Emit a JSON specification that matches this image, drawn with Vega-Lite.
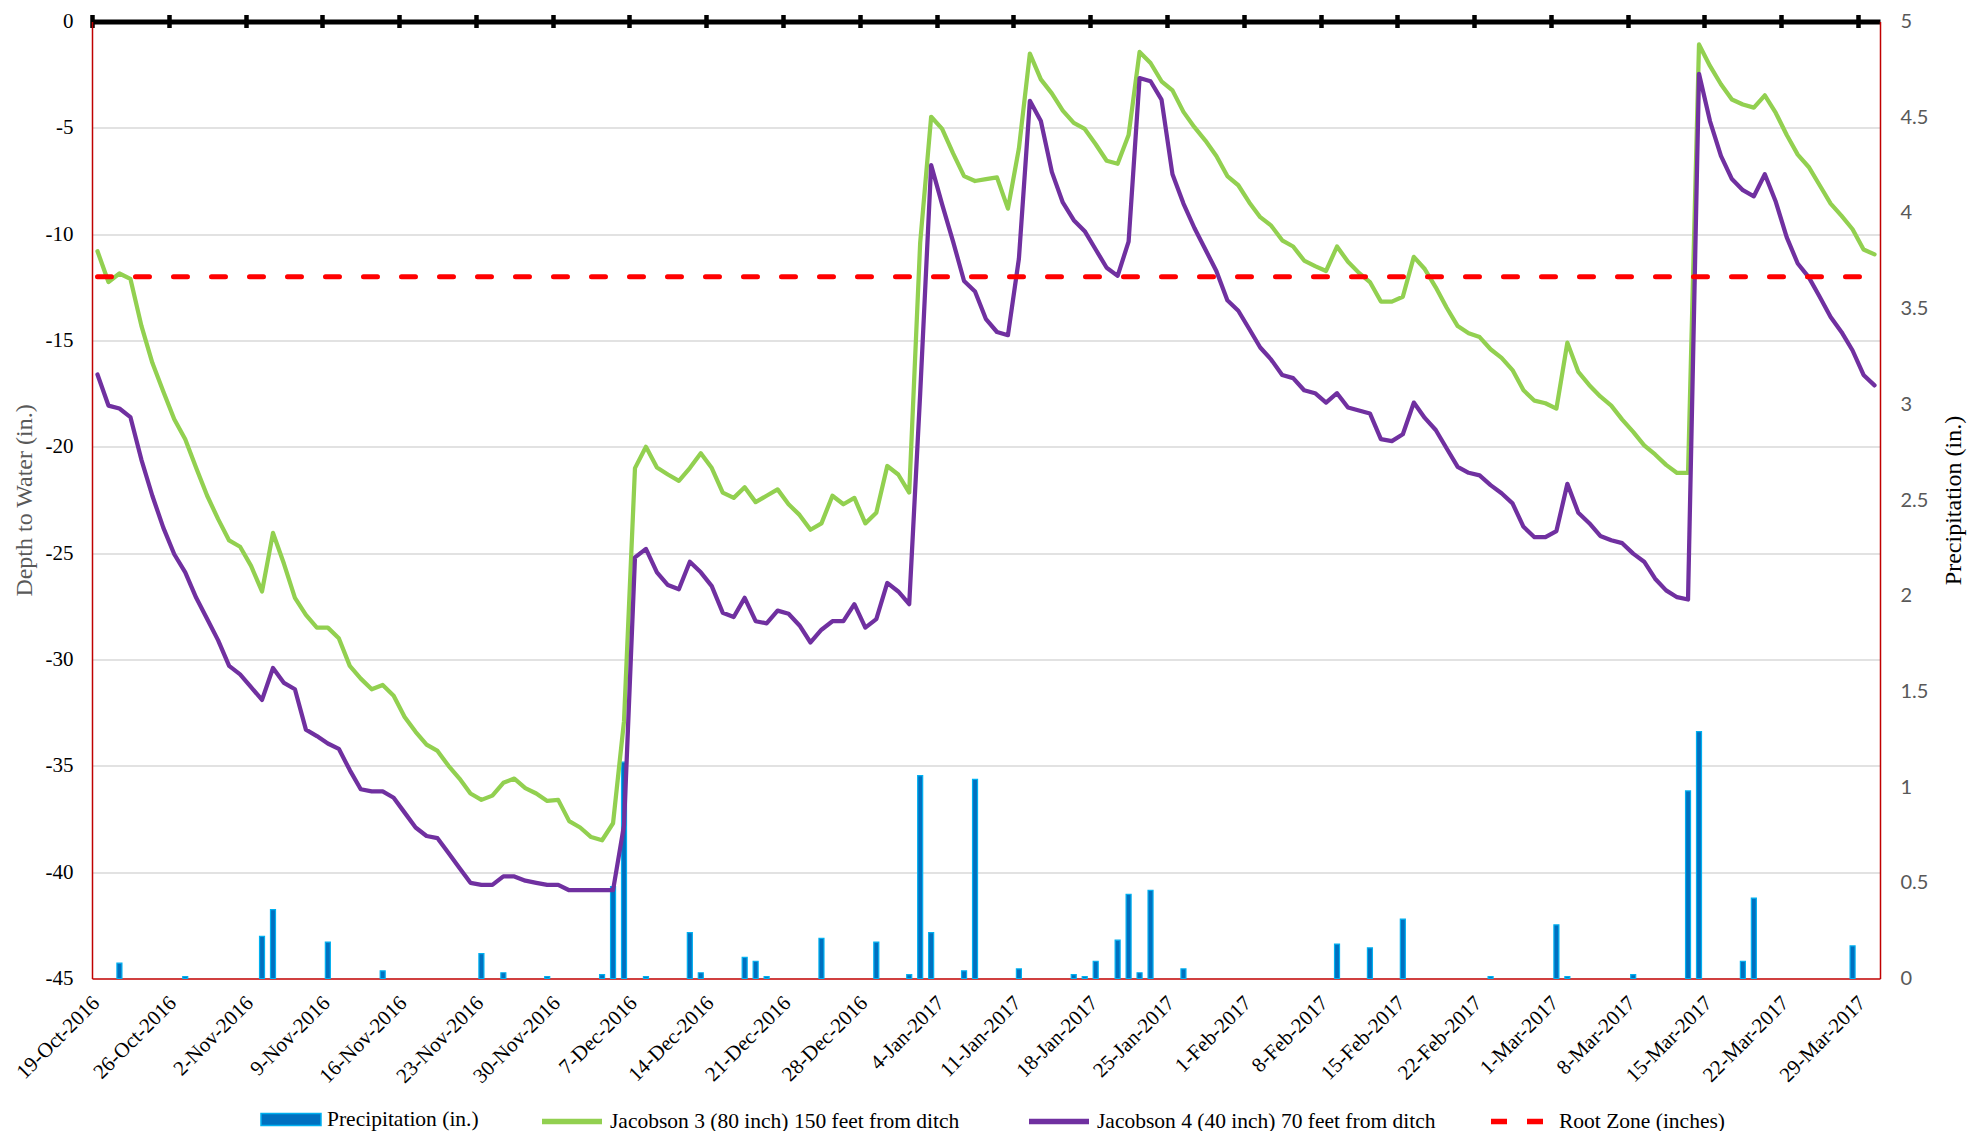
{
  "$schema": "https://vega.github.io/schema/vega-lite/v6.json",
  "width": 1788,
  "height": 957,
  "autosize": {"type": "none"},
  "padding": {"left": 92, "top": 21.5, "right": 87, "bottom": 152.5},
  "background": "#ffffff",
  "config": {"view": {"stroke": null}, "font": "Liberation Serif",
    "legend": {"orient": "none", "title": null, "labelFont": "Liberation Serif", "labelFontSize": 21.5, "labelColor": "#000000", "labelLimit": 1000, "symbolSize": 3600, "labelOffset": 5, "padding": 0}},
  "data": {"values": [
    {"Date":"2016-10-19","J3":-10.8,"J4":-16.6,"RZ":-12},
    {"Date":"2016-10-20","J3":-12.25,"J4":-18.06,"RZ":-12},
    {"Date":"2016-10-21","J3":-11.85,"J4":-18.2,"RZ":-12,"P":0.08},
    {"Date":"2016-10-22","J3":-12.1,"J4":-18.6,"RZ":-12},
    {"Date":"2016-10-23","J3":-14.3,"J4":-20.6,"RZ":-12},
    {"Date":"2016-10-24","J3":-16.05,"J4":-22.3,"RZ":-12},
    {"Date":"2016-10-25","J3":-17.4,"J4":-23.8,"RZ":-12},
    {"Date":"2016-10-26","J3":-18.7,"J4":-25.05,"RZ":-12},
    {"Date":"2016-10-27","J3":-19.64,"J4":-25.9,"RZ":-12,"P":0.01},
    {"Date":"2016-10-28","J3":-21.0,"J4":-27.1,"RZ":-12},
    {"Date":"2016-10-29","J3":-22.3,"J4":-28.1,"RZ":-12},
    {"Date":"2016-10-30","J3":-23.4,"J4":-29.1,"RZ":-12},
    {"Date":"2016-10-31","J3":-24.4,"J4":-30.3,"RZ":-12},
    {"Date":"2016-11-01","J3":-24.7,"J4":-30.7,"RZ":-12},
    {"Date":"2016-11-02","J3":-25.6,"J4":-31.3,"RZ":-12},
    {"Date":"2016-11-03","J3":-26.8,"J4":-31.9,"RZ":-12,"P":0.22},
    {"Date":"2016-11-04","J3":-24.05,"J4":-30.4,"RZ":-12,"P":0.36},
    {"Date":"2016-11-05","J3":-25.5,"J4":-31.1,"RZ":-12},
    {"Date":"2016-11-06","J3":-27.1,"J4":-31.4,"RZ":-12},
    {"Date":"2016-11-07","J3":-27.9,"J4":-33.3,"RZ":-12},
    {"Date":"2016-11-08","J3":-28.5,"J4":-33.6,"RZ":-12},
    {"Date":"2016-11-09","J3":-28.5,"J4":-33.95,"RZ":-12,"P":0.19},
    {"Date":"2016-11-10","J3":-29.0,"J4":-34.2,"RZ":-12},
    {"Date":"2016-11-11","J3":-30.3,"J4":-35.2,"RZ":-12},
    {"Date":"2016-11-12","J3":-30.9,"J4":-36.1,"RZ":-12},
    {"Date":"2016-11-13","J3":-31.4,"J4":-36.2,"RZ":-12},
    {"Date":"2016-11-14","J3":-31.2,"J4":-36.2,"RZ":-12,"P":0.04},
    {"Date":"2016-11-15","J3":-31.7,"J4":-36.5,"RZ":-12},
    {"Date":"2016-11-16","J3":-32.7,"J4":-37.2,"RZ":-12},
    {"Date":"2016-11-17","J3":-33.4,"J4":-37.9,"RZ":-12},
    {"Date":"2016-11-18","J3":-34.0,"J4":-38.3,"RZ":-12},
    {"Date":"2016-11-19","J3":-34.3,"J4":-38.4,"RZ":-12},
    {"Date":"2016-11-20","J3":-35.0,"J4":-39.1,"RZ":-12},
    {"Date":"2016-11-21","J3":-35.6,"J4":-39.8,"RZ":-12},
    {"Date":"2016-11-22","J3":-36.3,"J4":-40.5,"RZ":-12},
    {"Date":"2016-11-23","J3":-36.6,"J4":-40.6,"RZ":-12,"P":0.13},
    {"Date":"2016-11-24","J3":-36.4,"J4":-40.6,"RZ":-12},
    {"Date":"2016-11-25","J3":-35.8,"J4":-40.2,"RZ":-12,"P":0.03},
    {"Date":"2016-11-26","J3":-35.6,"J4":-40.2,"RZ":-12},
    {"Date":"2016-11-27","J3":-36.05,"J4":-40.4,"RZ":-12},
    {"Date":"2016-11-28","J3":-36.3,"J4":-40.5,"RZ":-12},
    {"Date":"2016-11-29","J3":-36.65,"J4":-40.6,"RZ":-12,"P":0.01},
    {"Date":"2016-11-30","J3":-36.6,"J4":-40.6,"RZ":-12},
    {"Date":"2016-12-01","J3":-37.6,"J4":-40.85,"RZ":-12},
    {"Date":"2016-12-02","J3":-37.9,"J4":-40.85,"RZ":-12},
    {"Date":"2016-12-03","J3":-38.35,"J4":-40.85,"RZ":-12},
    {"Date":"2016-12-04","J3":-38.5,"J4":-40.85,"RZ":-12,"P":0.02},
    {"Date":"2016-12-05","J3":-37.7,"J4":-40.85,"RZ":-12,"P":0.48},
    {"Date":"2016-12-06","J3":-32.9,"J4":-37.8,"RZ":-12,"P":1.13},
    {"Date":"2016-12-07","J3":-21.0,"J4":-25.2,"RZ":-12},
    {"Date":"2016-12-08","J3":-20.0,"J4":-24.8,"RZ":-12,"P":0.01},
    {"Date":"2016-12-09","J3":-20.97,"J4":-25.9,"RZ":-12},
    {"Date":"2016-12-10","J3":-21.3,"J4":-26.5,"RZ":-12},
    {"Date":"2016-12-11","J3":-21.6,"J4":-26.7,"RZ":-12},
    {"Date":"2016-12-12","J3":-21.0,"J4":-25.4,"RZ":-12,"P":0.24},
    {"Date":"2016-12-13","J3":-20.3,"J4":-25.9,"RZ":-12,"P":0.03},
    {"Date":"2016-12-14","J3":-21.0,"J4":-26.55,"RZ":-12},
    {"Date":"2016-12-15","J3":-22.15,"J4":-27.8,"RZ":-12},
    {"Date":"2016-12-16","J3":-22.4,"J4":-28.0,"RZ":-12},
    {"Date":"2016-12-17","J3":-21.9,"J4":-27.1,"RZ":-12,"P":0.11},
    {"Date":"2016-12-18","J3":-22.6,"J4":-28.2,"RZ":-12,"P":0.09},
    {"Date":"2016-12-19","J3":-22.3,"J4":-28.3,"RZ":-12,"P":0.01},
    {"Date":"2016-12-20","J3":-22.0,"J4":-27.7,"RZ":-12},
    {"Date":"2016-12-21","J3":-22.7,"J4":-27.85,"RZ":-12},
    {"Date":"2016-12-22","J3":-23.2,"J4":-28.4,"RZ":-12},
    {"Date":"2016-12-23","J3":-23.9,"J4":-29.2,"RZ":-12},
    {"Date":"2016-12-24","J3":-23.6,"J4":-28.6,"RZ":-12,"P":0.21},
    {"Date":"2016-12-25","J3":-22.3,"J4":-28.2,"RZ":-12},
    {"Date":"2016-12-26","J3":-22.7,"J4":-28.2,"RZ":-12},
    {"Date":"2016-12-27","J3":-22.4,"J4":-27.4,"RZ":-12},
    {"Date":"2016-12-28","J3":-23.6,"J4":-28.5,"RZ":-12},
    {"Date":"2016-12-29","J3":-23.1,"J4":-28.1,"RZ":-12,"P":0.19},
    {"Date":"2016-12-30","J3":-20.9,"J4":-26.4,"RZ":-12},
    {"Date":"2016-12-31","J3":-21.3,"J4":-26.8,"RZ":-12},
    {"Date":"2017-01-01","J3":-22.15,"J4":-27.4,"RZ":-12,"P":0.02},
    {"Date":"2017-01-02","J3":-10.4,"J4":-17.5,"RZ":-12,"P":1.06},
    {"Date":"2017-01-03","J3":-4.48,"J4":-6.75,"RZ":-12,"P":0.24},
    {"Date":"2017-01-04","J3":-5.05,"J4":-8.6,"RZ":-12},
    {"Date":"2017-01-05","J3":-6.2,"J4":-10.35,"RZ":-12},
    {"Date":"2017-01-06","J3":-7.27,"J4":-12.2,"RZ":-12,"P":0.04},
    {"Date":"2017-01-07","J3":-7.5,"J4":-12.7,"RZ":-12,"P":1.04},
    {"Date":"2017-01-08","J3":-7.41,"J4":-14.0,"RZ":-12},
    {"Date":"2017-01-09","J3":-7.33,"J4":-14.6,"RZ":-12},
    {"Date":"2017-01-10","J3":-8.8,"J4":-14.75,"RZ":-12},
    {"Date":"2017-01-11","J3":-5.97,"J4":-11.15,"RZ":-12,"P":0.05},
    {"Date":"2017-01-12","J3":-1.51,"J4":-3.73,"RZ":-12},
    {"Date":"2017-01-13","J3":-2.72,"J4":-4.68,"RZ":-12},
    {"Date":"2017-01-14","J3":-3.38,"J4":-7.07,"RZ":-12},
    {"Date":"2017-01-15","J3":-4.19,"J4":-8.51,"RZ":-12},
    {"Date":"2017-01-16","J3":-4.77,"J4":-9.34,"RZ":-12,"P":0.02},
    {"Date":"2017-01-17","J3":-5.05,"J4":-9.86,"RZ":-12,"P":0.01},
    {"Date":"2017-01-18","J3":-5.77,"J4":-10.72,"RZ":-12,"P":0.09},
    {"Date":"2017-01-19","J3":-6.55,"J4":-11.58,"RZ":-12},
    {"Date":"2017-01-20","J3":-6.69,"J4":-11.96,"RZ":-12,"P":0.2},
    {"Date":"2017-01-21","J3":-5.34,"J4":-10.35,"RZ":-12,"P":0.44},
    {"Date":"2017-01-22","J3":-1.43,"J4":-2.66,"RZ":-12,"P":0.03},
    {"Date":"2017-01-23","J3":-1.95,"J4":-2.81,"RZ":-12,"P":0.46},
    {"Date":"2017-01-24","J3":-2.81,"J4":-3.67,"RZ":-12},
    {"Date":"2017-01-25","J3":-3.24,"J4":-7.18,"RZ":-12},
    {"Date":"2017-01-26","J3":-4.25,"J4":-8.56,"RZ":-12,"P":0.05},
    {"Date":"2017-01-27","J3":-4.97,"J4":-9.71,"RZ":-12},
    {"Date":"2017-01-28","J3":-5.6,"J4":-10.72,"RZ":-12},
    {"Date":"2017-01-29","J3":-6.32,"J4":-11.73,"RZ":-12},
    {"Date":"2017-01-30","J3":-7.27,"J4":-13.11,"RZ":-12},
    {"Date":"2017-01-31","J3":-7.7,"J4":-13.6,"RZ":-12},
    {"Date":"2017-02-01","J3":-8.51,"J4":-14.46,"RZ":-12},
    {"Date":"2017-02-02","J3":-9.2,"J4":-15.33,"RZ":-12},
    {"Date":"2017-02-03","J3":-9.6,"J4":-15.9,"RZ":-12},
    {"Date":"2017-02-04","J3":-10.29,"J4":-16.62,"RZ":-12},
    {"Date":"2017-02-05","J3":-10.58,"J4":-16.77,"RZ":-12},
    {"Date":"2017-02-06","J3":-11.24,"J4":-17.34,"RZ":-12},
    {"Date":"2017-02-07","J3":-11.5,"J4":-17.48,"RZ":-12},
    {"Date":"2017-02-08","J3":-11.73,"J4":-17.92,"RZ":-12},
    {"Date":"2017-02-09","J3":-10.58,"J4":-17.48,"RZ":-12,"P":0.18},
    {"Date":"2017-02-10","J3":-11.3,"J4":-18.15,"RZ":-12},
    {"Date":"2017-02-11","J3":-11.82,"J4":-18.29,"RZ":-12},
    {"Date":"2017-02-12","J3":-12.25,"J4":-18.43,"RZ":-12,"P":0.16},
    {"Date":"2017-02-13","J3":-13.17,"J4":-19.64,"RZ":-12},
    {"Date":"2017-02-14","J3":-13.17,"J4":-19.73,"RZ":-12},
    {"Date":"2017-02-15","J3":-12.94,"J4":-19.41,"RZ":-12,"P":0.31},
    {"Date":"2017-02-16","J3":-11.07,"J4":-17.92,"RZ":-12},
    {"Date":"2017-02-17","J3":-11.64,"J4":-18.64,"RZ":-12},
    {"Date":"2017-02-18","J3":-12.5,"J4":-19.21,"RZ":-12},
    {"Date":"2017-02-19","J3":-13.46,"J4":-20.08,"RZ":-12},
    {"Date":"2017-02-20","J3":-14.32,"J4":-20.94,"RZ":-12},
    {"Date":"2017-02-21","J3":-14.66,"J4":-21.22,"RZ":-12},
    {"Date":"2017-02-22","J3":-14.84,"J4":-21.34,"RZ":-12},
    {"Date":"2017-02-23","J3":-15.41,"J4":-21.8,"RZ":-12,"P":0.01},
    {"Date":"2017-02-24","J3":-15.82,"J4":-22.18,"RZ":-12},
    {"Date":"2017-02-25","J3":-16.39,"J4":-22.66,"RZ":-12},
    {"Date":"2017-02-26","J3":-17.34,"J4":-23.76,"RZ":-12},
    {"Date":"2017-02-27","J3":-17.83,"J4":-24.25,"RZ":-12},
    {"Date":"2017-02-28","J3":-17.95,"J4":-24.25,"RZ":-12},
    {"Date":"2017-03-01","J3":-18.2,"J4":-23.96,"RZ":-12,"P":0.28},
    {"Date":"2017-03-02","J3":-15.1,"J4":-21.74,"RZ":-12,"P":0.01},
    {"Date":"2017-03-03","J3":-16.48,"J4":-23.1,"RZ":-12},
    {"Date":"2017-03-04","J3":-17.1,"J4":-23.59,"RZ":-12},
    {"Date":"2017-03-05","J3":-17.63,"J4":-24.19,"RZ":-12},
    {"Date":"2017-03-06","J3":-18.06,"J4":-24.39,"RZ":-12},
    {"Date":"2017-03-07","J3":-18.72,"J4":-24.53,"RZ":-12},
    {"Date":"2017-03-08","J3":-19.3,"J4":-25.02,"RZ":-12,"P":0.02},
    {"Date":"2017-03-09","J3":-19.93,"J4":-25.4,"RZ":-12},
    {"Date":"2017-03-10","J3":-20.36,"J4":-26.2,"RZ":-12},
    {"Date":"2017-03-11","J3":-20.85,"J4":-26.75,"RZ":-12},
    {"Date":"2017-03-12","J3":-21.23,"J4":-27.07,"RZ":-12},
    {"Date":"2017-03-13","J3":-21.23,"J4":-27.18,"RZ":-12,"P":0.98},
    {"Date":"2017-03-14","J3":-1.08,"J4":-2.46,"RZ":-12,"P":1.29},
    {"Date":"2017-03-15","J3":-2.09,"J4":-4.68,"RZ":-12},
    {"Date":"2017-03-16","J3":-2.95,"J4":-6.32,"RZ":-12},
    {"Date":"2017-03-17","J3":-3.67,"J4":-7.41,"RZ":-12},
    {"Date":"2017-03-18","J3":-3.9,"J4":-7.93,"RZ":-12,"P":0.09},
    {"Date":"2017-03-19","J3":-4.05,"J4":-8.22,"RZ":-12,"P":0.42},
    {"Date":"2017-03-20","J3":-3.47,"J4":-7.18,"RZ":-12},
    {"Date":"2017-03-21","J3":-4.3,"J4":-8.48,"RZ":-12},
    {"Date":"2017-03-22","J3":-5.34,"J4":-10.15,"RZ":-12},
    {"Date":"2017-03-23","J3":-6.26,"J4":-11.38,"RZ":-12},
    {"Date":"2017-03-24","J3":-6.84,"J4":-12.02,"RZ":-12},
    {"Date":"2017-03-25","J3":-7.7,"J4":-12.94,"RZ":-12},
    {"Date":"2017-03-26","J3":-8.56,"J4":-13.89,"RZ":-12},
    {"Date":"2017-03-27","J3":-9.14,"J4":-14.61,"RZ":-12},
    {"Date":"2017-03-28","J3":-9.77,"J4":-15.47,"RZ":-12,"P":0.17},
    {"Date":"2017-03-29","J3":-10.72,"J4":-16.62,"RZ":-12},
    {"Date":"2017-03-30","J3":-10.95,"J4":-17.11,"RZ":-12}
  ]},
  "layer": [
    {
      "mark": {"type": "bar", "width": 5, "stroke": "#00B0F0", "strokeWidth": 1.2},
      "encoding": {
        "x": {"field": "Date", "type": "temporal", "timeUnit": "utcyearmonthdate", "bandPosition": 0.5,
          "scale": {"type": "utc", "domain": [{"year": 2016, "month": 10, "date": 19, "utc": true}, {"year": 2017, "month": 3, "date": 31, "utc": true}]},
          "axis": {"orient": "bottom", "title": null, "grid": false, "ticks": false, "tickSize": 0,
            "domainColor": "#C00000", "domainWidth": 1.5,
            "values": [{"year":2016,"month":10,"date":19,"utc":true},{"year":2016,"month":10,"date":26,"utc":true},{"year":2016,"month":11,"date":2,"utc":true},{"year":2016,"month":11,"date":9,"utc":true},{"year":2016,"month":11,"date":16,"utc":true},{"year":2016,"month":11,"date":23,"utc":true},{"year":2016,"month":11,"date":30,"utc":true},{"year":2016,"month":12,"date":7,"utc":true},{"year":2016,"month":12,"date":14,"utc":true},{"year":2016,"month":12,"date":21,"utc":true},{"year":2016,"month":12,"date":28,"utc":true},{"year":2017,"month":1,"date":4,"utc":true},{"year":2017,"month":1,"date":11,"utc":true},{"year":2017,"month":1,"date":18,"utc":true},{"year":2017,"month":1,"date":25,"utc":true},{"year":2017,"month":2,"date":1,"utc":true},{"year":2017,"month":2,"date":8,"utc":true},{"year":2017,"month":2,"date":15,"utc":true},{"year":2017,"month":2,"date":22,"utc":true},{"year":2017,"month":3,"date":1,"utc":true},{"year":2017,"month":3,"date":8,"utc":true},{"year":2017,"month":3,"date":15,"utc":true},{"year":2017,"month":3,"date":22,"utc":true},{"year":2017,"month":3,"date":29,"utc":true}],
            "format": "%-d-%b-%Y", "labelAngle": -45, "labelAlign": "right", "labelBaseline": "middle",
            "labelPadding": 21, "labelOffset": 4, "labelFont": "Liberation Serif", "labelFontSize": 21, "labelColor": "#000000",
            "labelOverlap": false, "labelFlush": false, "labelBound": false}},
        "y": {"field": "P", "type": "quantitative", "scale": {"domain": [0, 5], "nice": false, "zero": true},
          "axis": {"orient": "right", "values": [0, 0.5, 1, 1.5, 2, 2.5, 3, 3.5, 4, 4.5, 5], "format": ".1~f",
            "grid": false, "ticks": false, "tickSize": 0, "domainColor": "#C00000", "domainWidth": 1.5,
            "labelFont": "Lato", "labelFontSize": 20, "labelColor": "#595959", "labelPadding": 20,
            "title": "Precipitation (in.)", "titleFont": "Liberation Serif", "titleFontSize": 24, "titleFontWeight": "normal",
            "titleColor": "#000000", "titleAngle": 270, "titleBaseline": "top", "titlePadding": 14}},
        "color": {"datum": "Precipitation (in.)", "type": "nominal",
          "scale": {"range": ["#0070C0"]},
          "legend": {"legendX": 168, "legendY": 1067,
            "symbolType": "M-1,-0.2H1V0.2H-1Z", "symbolStrokeColor": "#00B0F0", "symbolStrokeWidth": 1.5}}
      }
    },
    {
      "mark": {"type": "line", "strokeWidth": 4.25, "strokeCap": "round", "strokeJoin": "round"},
      "encoding": {
        "x": {"field": "Date", "type": "temporal", "timeUnit": "utcyearmonthdate", "bandPosition": 0.5,
          "scale": {"type": "utc", "domain": [{"year": 2016, "month": 10, "date": 19, "utc": true}, {"year": 2017, "month": 3, "date": 31, "utc": true}]},
          "axis": {"orient": "top", "title": null, "grid": false, "labels": false, "ticks": false, "domain": true,
            "domainColor": "#000000", "domainWidth": 5}},
        "y": {"field": "J3", "type": "quantitative", "scale": {"domain": [-45, 0], "nice": false, "zero": false},
          "axis": {"orient": "left", "values": [-45, -40, -35, -30, -25, -20, -15, -10, -5, 0],
            "labelExpr": "'' + datum.value", "ticks": false, "tickSize": 0,
            "domainColor": "#C00000", "domainWidth": 1.5,
            "grid": true, "gridWidth": 1.5,
            "gridColor": {"condition": {"test": "datum.value === -45 || datum.value === 0", "value": "transparent"}, "value": "#D9D9D9"},
            "labelFont": "Liberation Serif", "labelFontSize": 21, "labelColor": "#000000", "labelPadding": 19,
            "title": "Depth to Water (in.)", "titleFont": "Liberation Serif", "titleFontSize": 24, "titleFontWeight": "normal",
            "titleColor": "#595959", "titlePadding": 9}},
        "color": {"datum": "Jacobson 3 (80 inch) 150 feet from ditch", "type": "nominal",
          "scale": {"range": ["#92D050"]},
          "legend": {"legendX": 447, "legendY": 1067, "symbolType": "stroke", "symbolStrokeWidth": 5.5}}
      }
    },
    {
      "mark": {"type": "line", "strokeWidth": 4.25, "strokeCap": "round", "strokeJoin": "round"},
      "encoding": {
        "x": {"field": "Date", "type": "temporal", "timeUnit": "utcyearmonthdate", "bandPosition": 0.5,
          "scale": {"type": "utc", "domain": [{"year": 2016, "month": 10, "date": 19, "utc": true}, {"year": 2017, "month": 3, "date": 31, "utc": true}]},
          "axis": {"orient": "top", "title": null, "grid": false, "labels": false, "domain": false,
            "ticks": true, "tickSize": 13, "tickWidth": 4.5, "tickColor": "#000000", "offset": -6,
            "values": [{"year":2016,"month":10,"date":19,"utc":true},{"year":2016,"month":10,"date":26,"utc":true},{"year":2016,"month":11,"date":2,"utc":true},{"year":2016,"month":11,"date":9,"utc":true},{"year":2016,"month":11,"date":16,"utc":true},{"year":2016,"month":11,"date":23,"utc":true},{"year":2016,"month":11,"date":30,"utc":true},{"year":2016,"month":12,"date":7,"utc":true},{"year":2016,"month":12,"date":14,"utc":true},{"year":2016,"month":12,"date":21,"utc":true},{"year":2016,"month":12,"date":28,"utc":true},{"year":2017,"month":1,"date":4,"utc":true},{"year":2017,"month":1,"date":11,"utc":true},{"year":2017,"month":1,"date":18,"utc":true},{"year":2017,"month":1,"date":25,"utc":true},{"year":2017,"month":2,"date":1,"utc":true},{"year":2017,"month":2,"date":8,"utc":true},{"year":2017,"month":2,"date":15,"utc":true},{"year":2017,"month":2,"date":22,"utc":true},{"year":2017,"month":3,"date":1,"utc":true},{"year":2017,"month":3,"date":8,"utc":true},{"year":2017,"month":3,"date":15,"utc":true},{"year":2017,"month":3,"date":22,"utc":true},{"year":2017,"month":3,"date":29,"utc":true}]}},
        "y": {"field": "J4", "type": "quantitative", "scale": {"domain": [-45, 0], "nice": false, "zero": false}, "axis": null},
        "color": {"datum": "Jacobson 4 (40 inch) 70 feet from ditch", "type": "nominal",
          "scale": {"range": ["#7030A0"]},
          "legend": {"legendX": 934, "legendY": 1067, "symbolType": "stroke", "symbolStrokeWidth": 5.5}}
      }
    },
    {
      "mark": {"type": "line", "strokeWidth": 5, "strokeDash": [14, 24], "strokeCap": "round"},
      "encoding": {
        "x": {"field": "Date", "type": "temporal", "timeUnit": "utcyearmonthdate", "bandPosition": 0.5,
          "scale": {"type": "utc", "domain": [{"year": 2016, "month": 10, "date": 19, "utc": true}, {"year": 2017, "month": 3, "date": 31, "utc": true}]},
          "axis": null},
        "y": {"field": "RZ", "type": "quantitative", "scale": {"domain": [-45, 0], "nice": false, "zero": false}, "axis": null},
        "color": {"datum": "Root Zone (inches)", "type": "nominal",
          "scale": {"range": ["#FF0000"]},
          "legend": {"legendX": 1396, "legendY": 1067, "symbolType": "stroke", "symbolStrokeWidth": 5.5, "symbolDash": [16, 20]}}
      }
    }
  ],
  "resolve": {"scale": {"y": "independent", "color": "independent"}, "legend": {"color": "independent"}, "axis": {"x": "independent", "y": "independent"}}
}
